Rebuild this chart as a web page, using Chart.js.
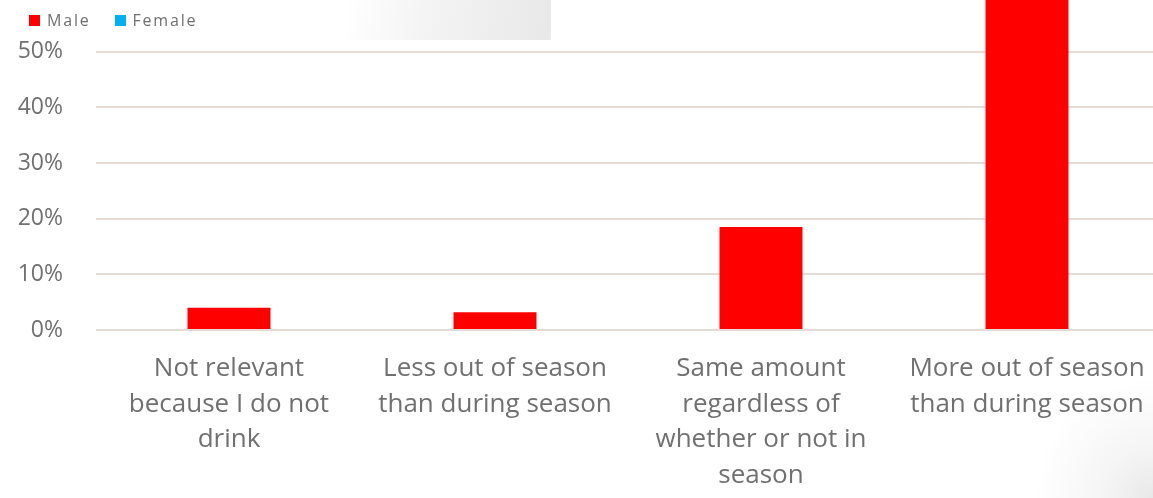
<!DOCTYPE html>
<html>
<head>
<meta charset="utf-8">
<script src="https://cdn.jsdelivr.net/npm/chart.js@4"></script>
<style>
  html, body { margin: 0; padding: 0; width: 1153px; height: 498px; overflow: hidden; background: #fff; }
  #wrap { position: relative; width: 1153px; height: 498px; overflow: hidden;
    background: radial-gradient(circle at 100% 100%, #e8e8e8 0, #f5f5f5 50px, rgba(255,255,255,0) 120px), #fff; }
  #legendBox { position: absolute; left: 0; top: 0; width: 551px; height: 40px;
    background: linear-gradient(100deg, rgba(255,255,255,0) 340px, #f4f4f4 420px, #e8e8e8 551px); }
  #legend { position: absolute; left: 29px; top: 9px; font: 16px "Open Sans", sans-serif; color: #707070; letter-spacing: 1.8px; }
  #legend span.item { margin-right: 24px; }
  #legend span.box { display: inline-block; width: 11px; height: 11px; margin-right: 7px; }
  /* the reference is a cropped screenshot: the top of the plot sits at the page top */
  canvas { position: absolute; left: 0; top: -47px; }
</style>
</head>
<body>
<div id="wrap">
  <div id="legendBox"></div>
  <canvas id="chart" width="1160" height="545"></canvas>
  <div id="legend"></div>
</div>
<script>
  var categories = [
    ['Not relevant', 'because I do not', 'drink'],
    ['Less out of season', 'than during season'],
    ['Same amount', 'regardless of', 'whether or not in', 'season'],
    ['More out of season', 'than during season']
  ];
  var male = [4.0, 3.2, 18.5, 74.5];
  var female = [null, null, null, null];
  var yTicks = [0, 10, 20, 30, 40, 50];

  var ctx = document.getElementById('chart').getContext('2d');
  var chart = new Chart(ctx, {
    type: 'bar',
    data: {
      labels: categories,
      datasets: [
        { label: 'Male', data: male, backgroundColor: '#ff0000' },
        { label: 'Female', data: female, backgroundColor: '#00b0f0' }
      ]
    },
    options: {
      responsive: false,
      animation: false,
      skipNull: true,
      categoryPercentage: 0.312,
      barPercentage: 1,
      plugins: { legend: { display: false }, tooltip: { enabled: false } },
      scales: {
        x: {
          grid: { display: false },
          border: { display: false },
          ticks: {
            color: '#707070',
            font: { family: 'Open Sans', size: 26, lineHeight: 1.37 },
            padding: 13,
            maxRotation: 0,
            autoSkip: false
          },
          afterFit: function (scale) { scale.height = 168; }
        },
        y: {
          min: 0,
          max: 59.35,
          border: { display: false },
          grid: { color: '#e4dcd4', lineWidth: 2, drawTicks: false },
          ticks: {
            color: '#707070',
            font: { family: 'Open Sans', size: 23, lineHeight: 1.2 },
            padding: 33,
            callback: function (v) { return v + '%'; }
          },
          afterBuildTicks: function (scale) {
            scale.ticks = yTicks.map(function (v) { return { value: v }; });
          },
          afterFit: function (scale) { scale.width = 96; }
        }
      }
    }
  });

  // legend from the datasets
  var leg = document.getElementById('legend');
  chart.data.datasets.forEach(function (ds) {
    var item = document.createElement('span');
    item.className = 'item';
    item.innerHTML = '<span class="box" style="background:' + ds.backgroundColor + '"></span>' + ds.label;
    leg.appendChild(item);
  });
</script>
</body>
</html>
